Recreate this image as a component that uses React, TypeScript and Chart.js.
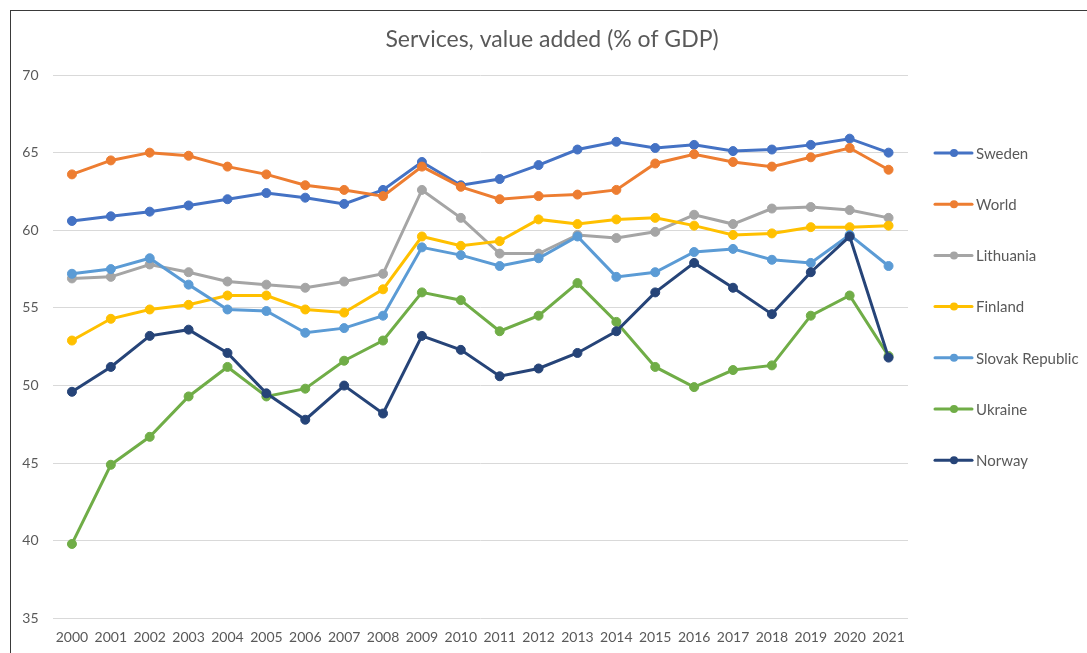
import React, { useEffect, useRef } from "react";
import { Chart, registerables } from "chart.js";

Chart.register(...registerables);

const TITLE = "Services, value added (% of GDP)";
const YEARS = ["2000","2001","2002","2003","2004","2005","2006","2007","2008","2009","2010","2011","2012","2013","2014","2015","2016","2017","2018","2019","2020","2021"];
const SERIES_NAMES = ["Sweden", "World", "Lithuania", "Finland", "Slovak Republic", "Ukraine", "Norway"];
const SERIES_COLORS = ["#4472C4", "#ED7D31", "#A5A5A5", "#FFC000", "#5B9BD5", "#70AD47", "#264478"];

const sweden = [60.6, 60.9, 61.2, 61.6, 62.0, 62.4, 62.1, 61.7, 62.6, 64.4, 62.9, 63.3, 64.2, 65.2, 65.7, 65.3, 65.5, 65.1, 65.2, 65.5, 65.9, 65.0];
const world = [63.6, 64.5, 65.0, 64.8, 64.1, 63.6, 62.9, 62.6, 62.2, 64.1, 62.8, 62.0, 62.2, 62.3, 62.6, 64.3, 64.9, 64.4, 64.1, 64.7, 65.3, 63.9];
const lithuania = [56.9, 57.0, 57.8, 57.3, 56.7, 56.5, 56.3, 56.7, 57.2, 62.6, 60.8, 58.5, 58.5, 59.7, 59.5, 59.9, 61.0, 60.4, 61.4, 61.5, 61.3, 60.8];
const finland = [52.9, 54.3, 54.9, 55.2, 55.8, 55.8, 54.9, 54.7, 56.2, 59.6, 59.0, 59.3, 60.7, 60.4, 60.7, 60.8, 60.3, 59.7, 59.8, 60.2, 60.2, 60.3];
const slovak = [57.2, 57.5, 58.2, 56.5, 54.9, 54.8, 53.4, 53.7, 54.5, 58.9, 58.4, 57.7, 58.2, 59.6, 57.0, 57.3, 58.6, 58.8, 58.1, 57.9, 59.7, 57.7];
const ukraine = [39.8, 44.9, 46.7, 49.3, 51.2, 49.3, 49.8, 51.6, 52.9, 56.0, 55.5, 53.5, 54.5, 56.6, 54.1, 51.2, 49.9, 51.0, 51.3, 54.5, 55.8, 51.9];
const norway = [49.6, 51.2, 53.2, 53.6, 52.1, 49.5, 47.8, 50.0, 48.2, 53.2, 52.3, 50.6, 51.1, 52.1, 53.5, 56.0, 57.9, 56.3, 54.6, 57.3, 59.6, 51.8];

const SERIES_VALUES = [sweden, world, lithuania, finland, slovak, ukraine, norway];

const Y_MIN = 35;
const Y_MAX = 70;
const Y_STEP = 5;

const FONT = "Lato, 'Open Sans', sans-serif";
const TEXT_COLOR = "#595959";

const titleLegendPlugin = {
  id: "titleLegend",
  afterDraw(chart: any) {
    const ctx = chart.ctx;
    const area = chart.chartArea;
    ctx.save();
    // title
    ctx.fillStyle = TEXT_COLOR;
    ctx.font = `23px ${FONT}`;
    ctx.textAlign = "center";
    ctx.textBaseline = "middle";
    ctx.fillText(TITLE, chart.width / 2 + 3, 29);
    // legend
    const x0 = area.right + 27;
    const y0 = area.top + 78;
    const gap = 51.2;
    chart.data.datasets.forEach((ds: any, i: number) => {
      const y = y0 + i * gap;
      ctx.strokeStyle = ds.borderColor;
      ctx.lineWidth = 3;
      ctx.lineCap = "round";
      ctx.beginPath();
      ctx.moveTo(x0, y);
      ctx.lineTo(x0 + 37, y);
      ctx.stroke();
      ctx.fillStyle = ds.borderColor;
      ctx.beginPath();
      ctx.arc(x0 + 19, y, 4, 0, Math.PI * 2);
      ctx.fill();
      ctx.fillStyle = TEXT_COLOR;
      ctx.font = `15px ${FONT}`;
      ctx.textAlign = "left";
      ctx.textBaseline = "middle";
      ctx.fillText(ds.label, x0 + 41, y + 1);
    });
    ctx.restore();
  },
};

export default function App() {
  const ref = useRef<HTMLCanvasElement | null>(null);
  useEffect(() => {
    if (!ref.current) return;
    const chart = new Chart(ref.current, {
      type: "line",
      data: {
        labels: YEARS,
        datasets: SERIES_NAMES.map((name, i) => ({
          label: name,
          data: SERIES_VALUES[i],
          borderColor: SERIES_COLORS[i],
          backgroundColor: SERIES_COLORS[i],
          pointBackgroundColor: SERIES_COLORS[i],
          pointBorderColor: SERIES_COLORS[i],
          borderWidth: 3,
          pointRadius: 4.5,
          pointBorderWidth: 1,
          tension: 0,
          fill: false,
          order: SERIES_NAMES.length - i,
        })),
      },
      options: {
        animation: false,
        responsive: false,
        layout: { padding: { left: 0, top: 64, right: 179, bottom: 0 } },
        plugins: {
          legend: { display: false },
          title: { display: false },
          tooltip: { enabled: false },
        },
        scales: {
          x: {
            offset: true,
            grid: { display: false, drawTicks: false },
            border: { display: false },
            ticks: {
              color: TEXT_COLOR,
              font: { family: FONT, size: 14 },
              padding: 11,
              maxRotation: 0,
              autoSkip: false,
            },
            afterFit: (s: any) => { s.height = 34.5; },
          },
          y: {
            min: Y_MIN,
            max: Y_MAX,
            grid: { color: "#D9D9D9", lineWidth: 1, drawTicks: false },
            border: { display: false },
            ticks: {
              stepSize: Y_STEP,
              color: TEXT_COLOR,
              font: { family: FONT, size: 14 },
              padding: 14,
            },
            afterFit: (s: any) => { s.width = 41.5; },
          },
        },
      },
      plugins: [titleLegendPlugin],
    });
    return () => chart.destroy();
  }, []);

  return (
    <div
      style={{
        position: "fixed",
        left: 10,
        top: 10,
        width: 1077,
        height: 643,
        borderLeft: "1px solid #3a3a3a",
        borderTop: "1px solid #3a3a3a",
        background: "#fff",
      }}
    >
      <canvas ref={ref} width={1076} height={642} style={{ display: "block", width: 1076, height: 642 }} />
    </div>
  );
}
